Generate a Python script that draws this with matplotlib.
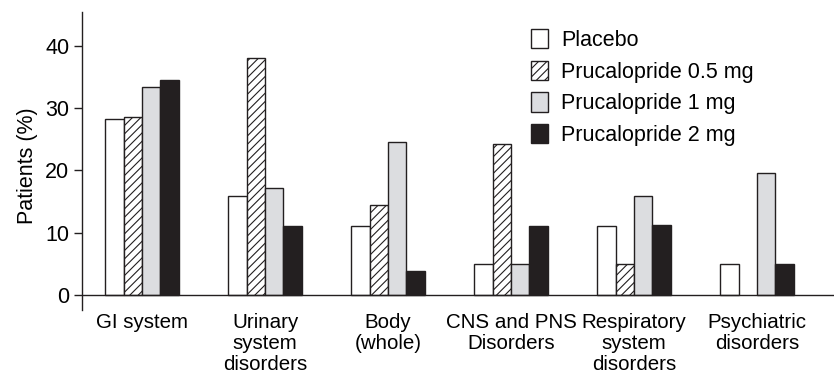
import numpy as np
import matplotlib
matplotlib.use("Agg")
import matplotlib.pyplot as plt

# data
categories = ["GI system", "Urinary\nsystem\ndisorders", "Body\n(whole)",
              "CNS and PNS\nDisorders", "Respiratory\nsystem\ndisorders",
              "Psychiatric\ndisorders"]
series_names = ["Placebo", "Prucalopride 0.5 mg", "Prucalopride 1 mg", "Prucalopride 2 mg"]
placebo = [28.3, 15.9, 11.0, 4.9, 11.0, 4.9]
pru_05 = [28.6, 38.0, 14.5, 24.3, 4.9, 0.0]
pru_1 = [33.4, 17.2, 24.6, 4.9, 15.9, 19.6]
pru_2 = [34.5, 11.0, 3.9, 11.0, 11.3, 4.9]
yticks = [0, 10, 20, 30, 40]

ink = "#231f20"
plt.rcParams["font.family"] = ["Liberation Sans", "DejaVu Sans"]
plt.rcParams["font.size"] = 15.5
plt.rcParams["hatch.linewidth"] = 0.8
plt.rcParams["hatch.color"] = ink

fig = plt.figure(figsize=(8.34, 3.79), dpi=100)
ax = fig.add_axes([82 / 834, 69 / 379, 752 / 834, 298 / 379])

x = np.arange(len(categories))
w = 0.15
styles = [
    dict(color="white", edgecolor=ink, hatch=None),
    dict(color="white", edgecolor=ink, hatch="////"),
    dict(color="#dcdde0", edgecolor=ink, hatch=None),
    dict(color=ink, edgecolor=ink, hatch=None),
]
data = [placebo, pru_05, pru_1, pru_2]
for i, (vals, name, st) in enumerate(zip(data, series_names, styles)):
    vals = np.array(vals)
    mask = vals > 0
    ax.bar(x[mask] + (i - 1.5) * w, vals[mask], width=w, facecolor=st["color"],
           edgecolor=st["edgecolor"], hatch=st["hatch"], linewidth=1.0, label=name)

ax.axhline(0, color=ink, linewidth=1.0, zorder=5)
ax.set_xlim(-0.488, 5.626)
ax.set_ylim(-2.4, 45.4)
ax.set_yticks(yticks)
ax.set_xticks(x)
ax.set_xticklabels(categories, linespacing=1.15, fontsize=14.8)
ax.tick_params(axis="x", length=0, pad=2)
ax.tick_params(axis="y", length=6, width=1.0, color=ink, pad=3)

for s in ["top", "right", "bottom"]:
    ax.spines[s].set_visible(False)
ax.spines["left"].set_color(ink)
ax.spines["left"].set_linewidth(1.0)

ax.set_ylabel("Patients (%)")
ax.yaxis.set_label_coords(-0.058, 0.485)

fig.legend(loc="upper left", bbox_to_anchor=(531 / 834, 1 - 29 / 379),
           frameon=False, borderpad=0, borderaxespad=0, handlelength=0.8,
           handleheight=1.0, handletextpad=0.6, labelspacing=0.45)

fig.savefig("out.png", dpi=100)
